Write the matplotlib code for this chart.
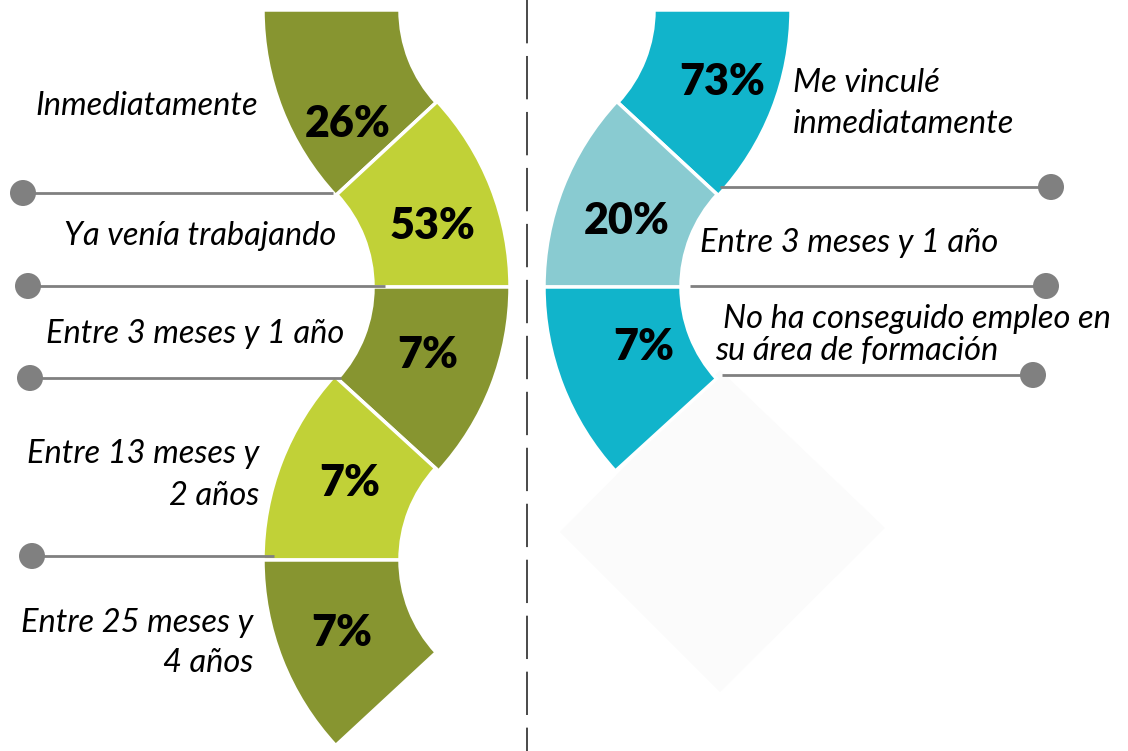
import math
import matplotlib
matplotlib.use("Agg")
import matplotlib.pyplot as plt
from matplotlib.patches import Wedge, Circle, Polygon

# datos
left_labels = ["Inmediatamente", "Ya venía trabajando", "Entre 3 meses y 1 año",
               "Entre 13 meses y\n2 años", "Entre 25 meses y\n4 años"]
left_values = [26, 53, 7, 7, 7]
right_labels = ["Me vinculé\ninmediatamente", "Entre 3 meses y 1 año",
                "No ha conseguido empleo en\nsu área de formación"]
right_values = [73, 20, 7]

left_colors = ["#879530", "#c1d137", "#879530", "#c1d137", "#879530"]
right_colors = ["#11b4cb", "#89cbd1", "#11b4cb"]

plt.rcParams['font.family'] = ['Lato', 'DejaVu Sans']

W, H = 1128, 751
fig = plt.figure(figsize=(W / 100, H / 100), dpi=100)
ax = fig.add_axes([0, 0, 1, 1])
ax.set_xlim(0, W)
ax.set_ylim(H, 0)
ax.axis('off')

MID = 527          # eje del espejo (linea discontinua)
R_IN, R_OUT = 136, 273
centers = [(536, 10), (237, 287), (237, 287), (536, 560), (536, 560)]


def ang(a, b):
    return math.degrees(math.atan2(b[1] - a[1], b[0] - a[0]))


a12 = ang(centers[0], centers[1])     # ~137
a21 = ang(centers[1], centers[0])     # ~-43
a23 = ang(centers[1], centers[3])     # ~42
a32 = ang(centers[3], centers[1])     # ~-137
spans = [(a12, 180), (a21, 0), (0, a23), (180, 360 + a32), (a12, 180)]


def mirror(c, span):
    return (2 * MID - c[0], c[1]), (180 - span[1], 180 - span[0])


# rombo gris muy claro
ax.add_patch(Polygon([(560, 532), (720, 370), (885, 528), (720, 692)],
                     closed=True, facecolor="#fbfbfb", edgecolor="none", zorder=0))

for i, v in enumerate(left_values):
    t1, t2 = spans[i]
    ax.add_patch(Wedge(centers[i], R_OUT, t1, t2, width=R_OUT - R_IN,
                       facecolor=left_colors[i], edgecolor="white", lw=2.5, zorder=2))

for i, v in enumerate(right_values):
    c, (t1, t2) = mirror(centers[i], spans[i])
    ax.add_patch(Wedge(c, R_OUT, t1, t2, width=R_OUT - R_IN,
                       facecolor=right_colors[i], edgecolor="white", lw=2.5, zorder=2))

# porcentajes
left_pct_pos = [(348, 124), (433, 226), (428, 355), (350, 483), (342, 633)]
right_pct_pos = [(722, 82), (627, 221), (644, 347)]
for v, (x, y) in zip(left_values, left_pct_pos):
    ax.text(x, y, f"{v}%", ha="center", va="center", fontsize=31,
            fontweight="heavy", color="black", zorder=5)
for v, (x, y) in zip(right_values, right_pct_pos):
    ax.text(x, y, f"{v}%", ha="center", va="center", fontsize=31,
            fontweight="heavy", color="black", zorder=5)

# lineas guia
gray = "#808080"
left_guides = [(23, 333, 193), (28, 385, 286), (30, 341, 378), (32, 274, 556)]
right_guides = [(1051, 720, 187), (1046, 690, 286), (1033, 722, 375)]
for xd, xe, y in left_guides + right_guides:
    ax.plot([xd, xe], [y, y], color=gray, lw=2, zorder=3, solid_capstyle="butt")
    ax.add_patch(Circle((xd, y), 13, facecolor=gray, edgecolor="none", zorder=4))

# etiquetas
fs = 23.5
lab = dict(fontsize=fs, style="italic", color="black", va="baseline", zorder=5)
ax.text(147, 115, left_labels[0], ha="center", **lab)
ax.text(200, 245, left_labels[1], ha="center", **lab)
ax.text(195, 343, left_labels[2], ha="center", **lab)
l3 = left_labels[3].split("\n")
ax.text(259, 463, l3[0], ha="right", **lab)
ax.text(259, 505, l3[1], ha="right", **lab)
l4 = left_labels[4].split("\n")
ax.text(253, 632, l4[0], ha="right", **lab)
ax.text(253, 672, l4[1], ha="right", **lab)

r0 = right_labels[0].split("\n")
ax.text(793, 92, r0[0], ha="left", **lab)
ax.text(793, 133, r0[1], ha="left", **lab)
ax.text(700, 252, right_labels[1], ha="left", **lab)
r2 = right_labels[2].split("\n")
ax.text(723, 328, r2[0], ha="left", **lab)
ax.text(715, 360, r2[1], ha="left", **lab)

# linea discontinua central
ax.plot([MID, MID], [0, H], color="#3a3a3a", lw=1.3, dashes=(24, 7), zorder=1)

fig.savefig("out.png", dpi=100)
